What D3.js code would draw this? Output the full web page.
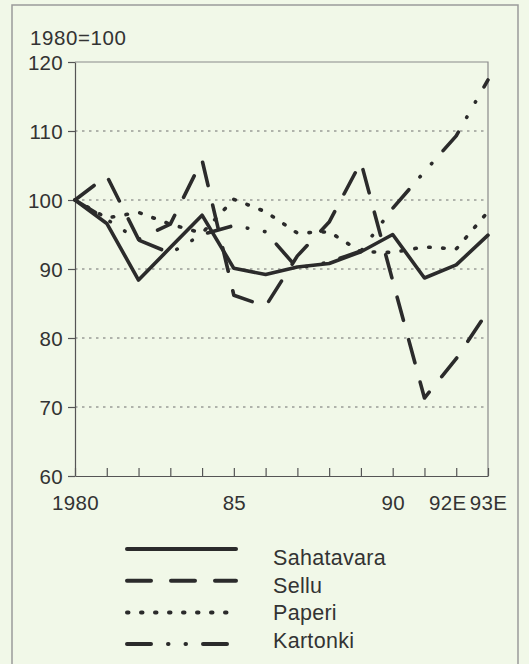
<!DOCTYPE html>
<html>
<head>
<meta charset="utf-8">
<script src="https://cdn.jsdelivr.net/npm/d3@7"></script>
<style>
    body { margin: 0; background: #f1f8e8; }
    svg { display: block; font-family: "Liberation Sans", Arial, sans-serif; }
</style>
</head>
<body>
<div id="display"></div>
<script>
// chart data (index, 1980 = 100)
var years = [1980, 1981, 1982, 1983, 1984, 1985, 1986, 1987, 1988, 1989, 1990, 1991, 1992, 1993];
var yearLabels = ['1980', '', '', '', '', '85', '', '', '', '', '90', '', '92E', '93E'];
var yTicks = [60, 70, 80, 90, 100, 110, 120];
var gridValues = [70, 80, 90, 100, 110];
var seriesNames = ['Sahatavara', 'Sellu', 'Paperi', 'Kartonki'];
var sahatavara = [100, 96.6, 88.4, 93.1, 97.8, 90.1, 89.2, 90.3, 90.8, 92.5, 95.0, 88.7, 90.6, 94.9];
var sellu = [100, 103.5, 94.3, 96.5, 105.8, 86.2, 84.6, 91.9, 96.8, 105.5, 88.3, 71.3, 77.0, 83.9];
var paperi = [100, 97.4, 98.2, 96.5, 95.2, 100.1, 98.3, 95.2, 95.4, 92.5, 92.4, 93.2, 92.9, 98.3];
var kartonki = [100, 97.2, 94.2, 92.3, 95.0, 96.3, 95.4, 90.1, 91.0, 92.6, 98.8, 104.1, 109.3, 117.4];
var unitLabel = '1980=100';

window.onload = function() {
    var svgWidth = 529;
    var svgHeight = 664;
    var ink = '#2b2b2b';
    var textColor = '#333';

    var values = [sahatavara, sellu, paperi, kartonki];
    var dashes = ['none', '24,20', '1.5,12.5', '24,17,0.5,17,0.5,17'];

    var svg = d3.select('#display').append('svg')
        .attr('width', svgWidth)
        .attr('height', svgHeight);

    // outer frame of the figure
    svg.append('rect')
        .attr('x', 12).attr('y', 5)
        .attr('width', 506).attr('height', 670)
        .attr('fill', '#f1f8e8')
        .attr('stroke', '#9a9a9a')
        .attr('stroke-width', 1.5);

    var x = d3.scaleLinear().domain([1980, 1993]).range([75, 488]);
    var y = d3.scaleLinear().domain([60, 120]).range([476, 62]);

    // dotted grid
    svg.append('g').selectAll('line')
        .data(gridValues)
        .enter()
        .append('line')
        .attr('x1', x(1980)).attr('x2', x(1993))
        .attr('y1', function(d) { return y(d); })
        .attr('y2', function(d) { return y(d); })
        .attr('stroke', '#6f6f6f')
        .attr('stroke-width', 1)
        .attr('stroke-dasharray', '2.5,4.5');

    // plot frame, top and right
    svg.append('path')
        .attr('d', 'M' + x(1980) + ',' + y(120) + 'H' + x(1993) + 'V' + y(60))
        .attr('fill', 'none')
        .attr('stroke', '#8a8a8a')
        .attr('stroke-width', 1.2);

    var yAxis = svg.append('g')
        .attr('transform', 'translate(' + x(1980) + ',0)')
        .call(d3.axisLeft(y).tickValues(yTicks).tickSize(7).tickSizeOuter(0).tickPadding(5));

    var xAxis = svg.append('g')
        .attr('transform', 'translate(0,' + y(60) + ')')
        .call(d3.axisBottom(x).tickValues(years).tickSize(-8).tickSizeOuter(0).tickPadding(19)
            .tickFormat(function(d, i) { return yearLabels[i]; }));

    [yAxis, xAxis].forEach(function(ax) {
        ax.selectAll('path, line').attr('stroke', '#555').attr('stroke-width', 1.2);
        ax.selectAll('text')
            .attr('fill', textColor)
            .style('font-size', '20.5px')
            .style('letter-spacing', '0.3px');
    });
    yAxis.selectAll('text').attr('dy', '0.36em');
    // 92E is pushed left so it does not run into 93E
    xAxis.selectAll('text')
        .filter(function(d) { return d === 1992; })
        .attr('dx', -9);

    svg.append('text')
        .attr('x', 30).attr('y', 45)
        .attr('fill', textColor)
        .style('font-size', '20.5px')
        .style('letter-spacing', '0.6px')
        .text(unitLabel);

    var line = d3.line()
        .x(function(d, i) { return x(years[i]); })
        .y(function(d) { return y(d); });

    svg.append('g').selectAll('path')
        .data(values)
        .enter()
        .append('path')
        .attr('d', function(d) { return line(d); })
        .attr('fill', 'none')
        .attr('stroke', ink)
        .attr('stroke-width', 3.6)
        .attr('stroke-linecap', 'round')
        .attr('stroke-linejoin', 'round')
        .attr('stroke-dasharray', function(d, i) { return dashes[i]; });

    // legend
    var legend = svg.append('g').selectAll('g')
        .data(seriesNames)
        .enter()
        .append('g');

    legend.append('line')
        .attr('x1', 127).attr('x2', 236)
        .attr('y1', function(d, i) { return 549 + i * 31.7; })
        .attr('y2', function(d, i) { return 549 + i * 31.7; })
        .attr('stroke', ink)
        .attr('stroke-width', 4)
        .attr('stroke-linecap', 'round')
        .attr('stroke-dasharray', function(d, i) { return dashes[i]; });

    legend.append('text')
        .attr('x', 273)
        .attr('y', function(d, i) { return 565 + i * 27.7; })
        .attr('fill', textColor)
        .style('font-size', '21.5px')
        .style('letter-spacing', '0.3px')
        .text(function(d) { return d; });
}
</script>
</body>
</html>
